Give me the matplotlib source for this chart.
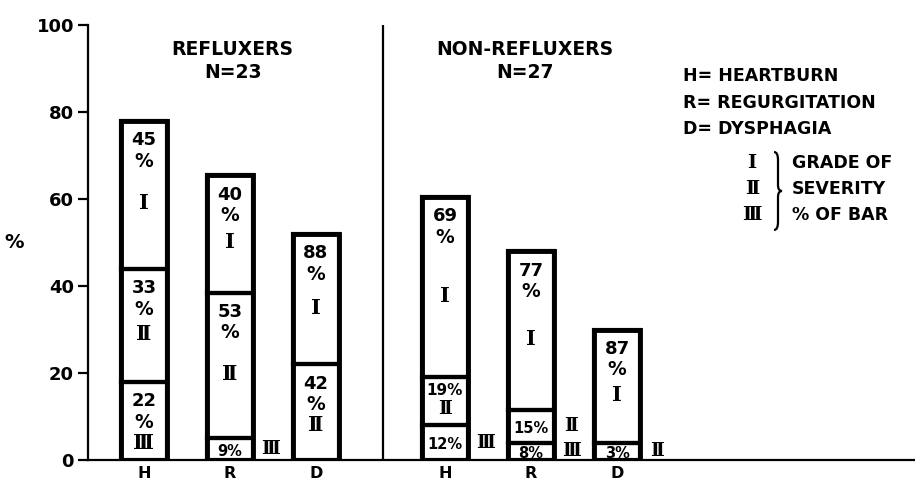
import matplotlib.pyplot as plt
from matplotlib.path import Path
from matplotlib.patches import PathPatch

symptoms = ["H", "R", "D"]
group_titles = ["REFLUXERS\nN=23", "NON-REFLUXERS\nN=27"]
legend_lines = ["H= HEARTBURN", "R= REGURGITATION", "D= DYSPHAGIA"]
grade_names = ["\u2160", "\u2161", "\u2162"]
grade_notes = ["GRADE OF", "SEVERITY", "% OF BAR"]

# segment heights (% of patients), stacked grade III at bottom, then II, then I
refl_grade3 = [18, 5, 0]
refl_grade2 = [26, 33.5, 22]
refl_grade1 = [34, 27, 30]
non_grade3 = [8, 4, 0]
non_grade2 = [11, 7.5, 4]
non_grade1 = [41.5, 36.5, 26]

# printed "% of bar" for each grade
refl_pct3 = ["22", "9", ""]
refl_pct2 = ["33", "53", "42"]
refl_pct1 = ["45", "40", "88"]
non_pct3 = ["12", "8", ""]
non_pct2 = ["19", "15", "3"]
non_pct1 = ["69", "77", "87"]

W, H = 915, 482
BOLD = dict(fontweight="bold", family="DejaVu Sans")
ROMAN = dict(fontweight="bold", family=["DejaVu Serif", "DejaVu Sans"])

fig = plt.figure(figsize=(W / 100, H / 100), dpi=100)
ax = fig.add_axes([88 / W, 22 / H, (W - 88) / W, 435 / H])


def label_segment(x, bottom, h, pct, numeral):
    top = bottom + h
    mid = bottom + h / 2
    if h >= 15:
        ax.text(x, top - 4.5, pct, ha="center", va="center", fontsize=13, **BOLD)
        ax.text(x, top - 9.3, "%", ha="center", va="center", fontsize=13.5, **BOLD)
        ax.text(x, min(mid - 2, top - 14), numeral, ha="center", va="center", fontsize=15, **ROMAN)
    elif h >= 10:
        ax.text(x, top - 3, pct + "%", ha="center", va="center", fontsize=11, **BOLD)
        ax.text(x, top - 7.2, numeral, ha="center", va="center", fontsize=13.5, **ROMAN)
    else:
        ax.text(x, max(mid - 0.5, 1.4), pct + "%", ha="center", va="center", fontsize=10.5, **BOLD)
        ax.text(x + 0.47, max(mid, 1.8), numeral, ha="center", va="center", fontsize=13.5, **ROMAN)


groups = [
    (0.0, [refl_grade3, refl_grade2, refl_grade1], [refl_pct3, refl_pct2, refl_pct1]),
    (3.5, [non_grade3, non_grade2, non_grade1], [non_pct3, non_pct2, non_pct1]),
]
width = 0.535
xticks, xlabels = [], []
for offset, heights, pcts in groups:
    for i, sym in enumerate(symptoms):
        x = offset + i
        xticks.append(x)
        xlabels.append(sym)
        bottom = 0
        for g in (2, 1, 0):  # grade III, II, I from the bottom
            h = heights[2 - g][i]
            if h <= 0:
                continue
            ax.bar(x, h, width, bottom=bottom, fill=False, edgecolor="black", linewidth=3)
            label_segment(x, bottom, h, pcts[2 - g][i], grade_names[g])
            bottom += h
        ax.bar(x, bottom, width, fill=False, edgecolor="black", linewidth=3.5)

ax.axvline(2.78, color="black", linewidth=1.6)
ax.set_xlim(-0.651, 8.965)
ax.set_ylim(0, 100)
ax.set_yticks([0, 20, 40, 60, 80, 100])
ax.set_yticklabels(["0", "20", "40", "60", "80", "100"], fontsize=13, **BOLD)
ax.set_xticks(xticks)
ax.set_xticklabels(xlabels, fontsize=11.5, **BOLD)
ax.tick_params(axis="y", length=7, width=1.6, pad=3)
ax.tick_params(axis="x", length=0, pad=4)
for side in ("top", "right"):
    ax.spines[side].set_visible(False)
for side in ("left", "bottom"):
    ax.spines[side].set_linewidth(1.6)

fig.text(14 / W, 1 - 243 / H, "%", ha="center", va="center", fontsize=14, **BOLD)

# group headings
ax.text(1.03, 96.5, group_titles[0], ha="center", va="top", fontsize=13.5, linespacing=1.25, **BOLD)
ax.text(4.43, 96.5, group_titles[1], ha="center", va="top", fontsize=13.5, linespacing=1.25, **BOLD)

# key at the right
for k, line in enumerate(legend_lines):
    fig.text(683 / W, 1 - (76 + 26.5 * k) / H, line, ha="left", va="center", fontsize=12.5, **BOLD)
for k in range(3):
    y = 1 - (163 + 26 * k) / H
    fig.text(752 / W, y, grade_names[k], ha="center", va="center", fontsize=14, **ROMAN)
    fig.text(792 / W, y, grade_notes[k], ha="left", va="center", fontsize=12.5, **BOLD)

# curly brace joining the grade notes
x0, w, ytop, ybot = 774, 8, 152, 230
ym = (ytop + ybot) / 2
pts = [(x0, ytop), (x0 + w / 2, ytop), (x0 + w / 2, ytop + 8),
       (x0 + w / 2, ym - 6), (x0 + w / 2, ym), (x0 + w, ym),
       (x0 + w / 2, ym), (x0 + w / 2, ym + 6),
       (x0 + w / 2, ybot - 8), (x0 + w / 2, ybot), (x0, ybot)]
codes = [Path.MOVETO, Path.CURVE3, Path.CURVE3, Path.LINETO, Path.CURVE3, Path.CURVE3,
         Path.CURVE3, Path.CURVE3, Path.LINETO, Path.CURVE3, Path.CURVE3]
pts = [(px / W, 1 - py / H) for px, py in pts]
fig.patches.append(PathPatch(Path(pts, codes), fill=False, lw=1.6, edgecolor="black",
                             transform=fig.transFigure, figure=fig))

fig.savefig("out.png", dpi=100)
